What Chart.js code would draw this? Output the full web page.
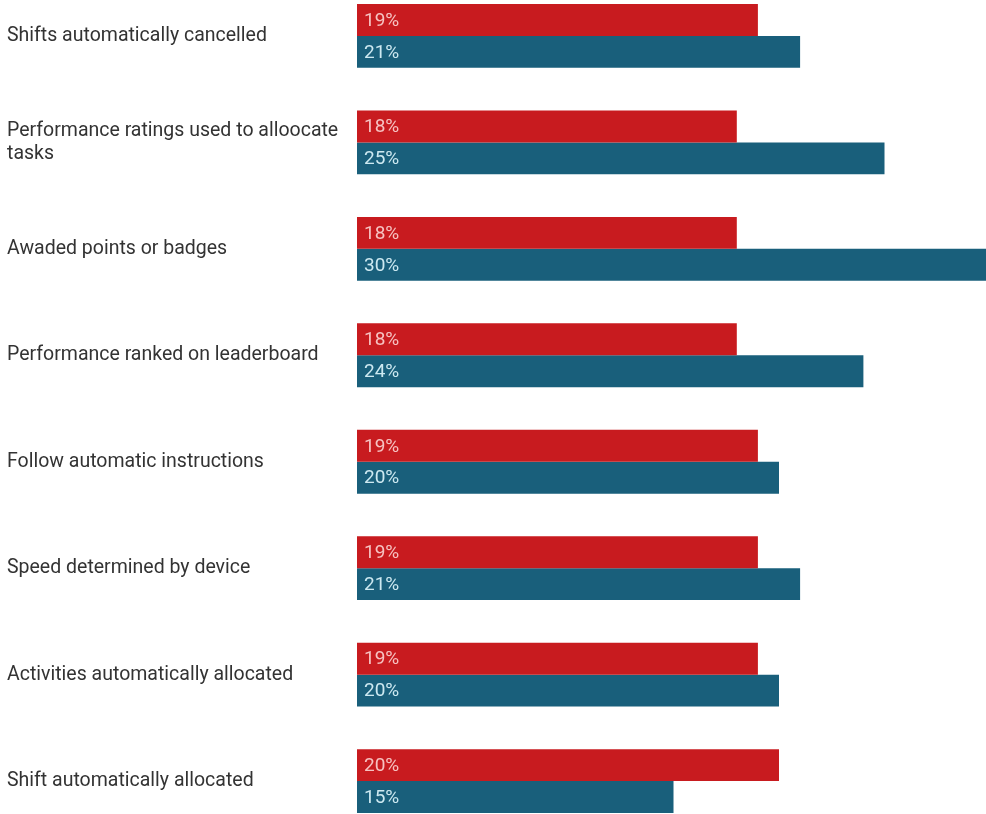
<!DOCTYPE html>
<html>
<head>
<meta charset="utf-8">
<script src="https://cdn.jsdelivr.net/npm/chart.js@4/dist/chart.umd.min.js"></script>
<style>
  html, body { margin: 0; padding: 0; background: #fff; overflow: hidden; }
  #wrap { position: absolute; left: 0; top: -32px; width: 990px; height: 881px; }
</style>
</head>
<body>
<div id="wrap"><canvas id="chart"></canvas></div>
<script>
// categories, top to bottom
const categories = [
  'Shifts automatically cancelled',
  ['Performance ratings used to alloocate', 'tasks'],
  'Awaded points or badges',
  'Performance ranked on leaderboard',
  'Follow automatic instructions',
  'Speed determined by device',
  'Activities automatically allocated',
  'Shift automatically allocated'
];
const redValues  = [19, 18, 18, 18, 19, 19, 19, 20];
const blueValues = [21, 25, 30, 24, 20, 21, 20, 15];

const RED = '#c81b1f';
const BLUE = '#195f7b';

// draws "NN%" inside the start of every bar
const valueLabels = {
  id: 'valueLabels',
  afterDatasetsDraw(chart) {
    const ctx = chart.ctx;
    ctx.save();
    ctx.font = '19px Roboto';
    ctx.textBaseline = 'middle';
    ctx.textAlign = 'left';
    chart.data.datasets.forEach((ds, i) => {
      const meta = chart.getDatasetMeta(i);
      ctx.fillStyle = ds.labelColor;
      meta.data.forEach((bar, j) => {
        ctx.fillText(ds.data[j] + '%', bar.base + 7, bar.y + 1);
      });
    });
    ctx.restore();
  }
};

new Chart(document.getElementById('chart'), {
  type: 'bar',
  data: {
    labels: categories,
    datasets: [{
      label: 'Series 1',
      data: redValues,
      backgroundColor: RED,
      labelColor: '#f6c2c1',
      categoryPercentage: 0.6,
      barPercentage: 1.0
    }, {
      label: 'Series 2',
      data: blueValues,
      backgroundColor: BLUE,
      labelColor: '#cde9f1',
      categoryPercentage: 0.6,
      barPercentage: 1.0
    }]
  },
  options: {
    indexAxis: 'y',
    responsive: true,
    maintainAspectRatio: false,
    animation: false,
    devicePixelRatio: 1,
    layout: { padding: { left: 7, right: 0, top: 0, bottom: 0 } },
    plugins: {
      legend: { display: false },
      tooltip: { enabled: false }
    },
    scales: {
      x: {
        display: false,
        min: 0,
        max: 30
      },
      y: {
        grid: { display: false },
        border: { display: false },
        afterFit(scale) { scale.width = 350; },
        ticks: {
          crossAlign: 'far',
          color: '#333333',
          font: { family: 'Roboto', size: 19.5 },
          lineHeight: 1.25
        }
      }
    }
  },
  plugins: [valueLabels]
});
</script>
</body>
</html>
